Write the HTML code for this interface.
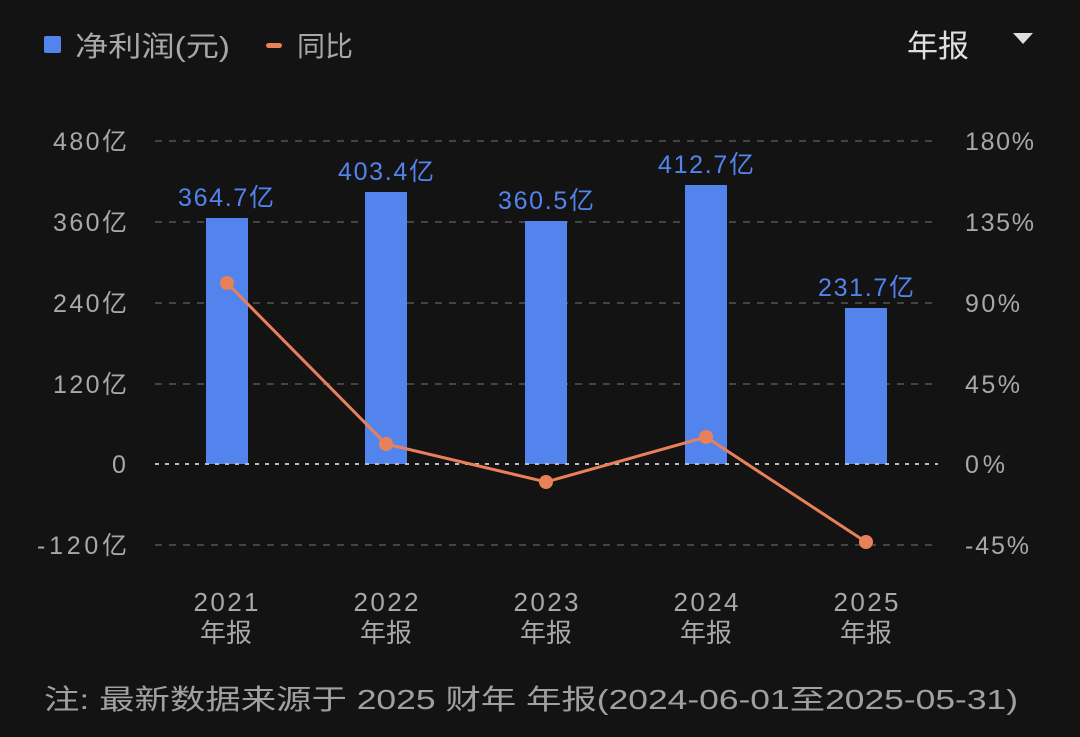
<!DOCTYPE html>
<html><head><meta charset="utf-8"><style>
html,body{margin:0;padding:0;background:#131313;}
svg{display:block;font-family:"Liberation Sans","Noto Sans CJK SC",sans-serif;}
</style></head><body>
<svg width="1080" height="737" viewBox="0 0 1080 737" xmlns="http://www.w3.org/2000/svg">
<rect width="1080" height="737" fill="#131313"/>
<rect x="44" y="36" width="17" height="17" rx="2" fill="#5383ec"/>
<text x="75" y="56" font-size="28" fill="#a8a8a8" textLength="155" lengthAdjust="spacingAndGlyphs">净利润(元)</text>
<rect x="266" y="43" width="16" height="5" rx="2.5" fill="#e8815a"/>
<text x="297" y="56" font-size="28" fill="#a8a8a8">同比</text>
<text x="907" y="57" font-size="31" fill="#e0e0e0">年报</text>
<polygon points="1013,33 1033,33 1023,44" fill="#e0e0e0"/>
<g stroke="#444" stroke-width="2" stroke-dasharray="7,7">
<line x1="155" y1="141" x2="938" y2="141"/>
<line x1="155" y1="222" x2="938" y2="222"/>
<line x1="155" y1="303" x2="938" y2="303"/>
<line x1="155" y1="384" x2="938" y2="384"/>
<line x1="155" y1="545" x2="938" y2="545"/>
</g>
<g font-size="25" fill="#a8a8a8" lengthAdjust="spacingAndGlyphs">
<text x="53" y="150" textLength="74">480亿</text><text x="53" y="231" textLength="74">360亿</text><text x="53" y="312" textLength="74">240亿</text>
<text x="53" y="393" textLength="74">120亿</text><text x="112" y="473">0</text><text x="37" y="554" textLength="90">-120亿</text>
</g>
<g font-size="25" fill="#a8a8a8" lengthAdjust="spacingAndGlyphs">
<text x="965" y="150" textLength="69">180%</text><text x="965" y="231" textLength="69">135%</text><text x="965" y="312" textLength="55">90%</text>
<text x="965" y="393" textLength="55">45%</text><text x="965" y="473" textLength="40">0%</text><text x="965" y="554" textLength="64">-45%</text>
</g>
<g fill="#5383ec">
<rect x="206" y="218" width="42" height="246"/>
<rect x="365" y="192" width="42" height="272"/>
<rect x="525" y="221" width="42" height="243"/>
<rect x="685" y="185" width="42" height="279"/>
<rect x="845" y="308" width="42" height="156"/>
</g>
<line x1="155" y1="464" x2="938" y2="464" stroke="#bbb" stroke-width="2" stroke-dasharray="4,6"/>
<g font-size="25" fill="#5383ec" lengthAdjust="spacingAndGlyphs">
<text x="178" y="206" textLength="96">364.7亿</text><text x="338" y="180" textLength="96">403.4亿</text><text x="498" y="209" textLength="96">360.5亿</text>
<text x="658" y="173" textLength="96">412.7亿</text><text x="818" y="296" textLength="96">231.7亿</text>
</g>
<polyline points="227,283 386,444 546,482 706,437 866,542" fill="none" stroke="#e8815a" stroke-width="3"/>
<g fill="#e8815a">
<circle cx="227" cy="283" r="7"/><circle cx="386" cy="444" r="7"/><circle cx="546" cy="482" r="7"/>
<circle cx="706" cy="437" r="7"/><circle cx="866" cy="542" r="7"/>
</g>
<g font-size="26" fill="#a8a8a8" text-anchor="middle" lengthAdjust="spacingAndGlyphs">
<text x="226" y="611" textLength="65">2021</text><text x="226" y="642">年报</text>
<text x="386" y="611" textLength="65">2022</text><text x="386" y="642">年报</text>
<text x="546" y="611" textLength="65">2023</text><text x="546" y="642">年报</text>
<text x="706" y="611" textLength="65">2024</text><text x="706" y="642">年报</text>
<text x="866" y="611" textLength="65">2025</text><text x="866" y="642">年报</text>
</g>
<text x="44" y="709" font-size="28" fill="#a0a0a0" textLength="974" lengthAdjust="spacingAndGlyphs">注: 最新数据来源于 2025 财年 年报(2024-06-01至2025-05-31)</text>
</svg>
</body></html>
